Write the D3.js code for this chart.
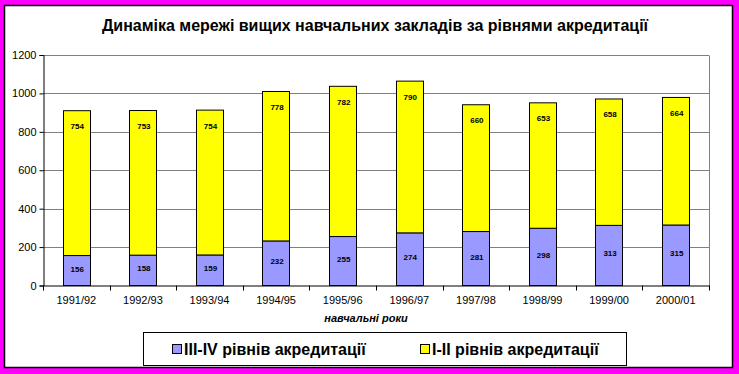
<!DOCTYPE html>
<html><head><meta charset="utf-8">
<script src="https://cdn.jsdelivr.net/npm/d3@7"></script>
<style>html,body{margin:0;padding:0;background:#FF00FF;}svg{display:block;}</style>
</head><body>
<svg id="c" width="739" height="374"></svg>
<script>
const years = ["1991/92","1992/93","1993/94","1994/95","1995/96","1996/97","1997/98","1998/99","1999/00","2000/01"];
const levelIII_IV = [156,158,159,232,255,274,281,298,313,315];
const levelI_II = [754,753,754,778,782,790,660,653,658,664];
const yTicks = [0,200,400,600,800,1000,1200];
const seriesNames = ["III-IV рівнів акредитації","I-II рівнів акредитації"];
const title = "Динаміка мережі вищих навчальних закладів за рівнями акредитації";
const xTitle = "навчальні роки";

const svg = d3.select("#c");
const font = "'Liberation Sans', Arial, sans-serif";
svg.append("rect").attr("x",0).attr("y",0).attr("width",739).attr("height",374).attr("fill","#FF00FF");
svg.append("rect").attr("x",4.5).attr("y",5.5).attr("width",728).attr("height",362)
  .attr("fill","#fff").attr("stroke","#000").attr("stroke-width",1.5);

const L=43, R=709, T=55, B=285.5;
const x = d3.scaleBand().domain(years).range([L,R]).paddingInner(0.59).paddingOuter(0.295);
const y = d3.scaleLinear().domain([0,1200]).range([B,T]);

// gridlines
svg.append("g").selectAll("line").data(yTicks.filter(d=>d>0)).join("line")
  .attr("x1",L).attr("x2",R).attr("y1",d=>Math.round(y(d))+0.5).attr("y2",d=>Math.round(y(d))+0.5)
  .attr("stroke","#808080").attr("stroke-width",1);
svg.append("line").attr("x1",R+0.5).attr("x2",R+0.5).attr("y1",Math.round(y(1200))+0.5).attr("y2",B)
  .attr("stroke","#808080");

const data = years.map((yr,i)=>({yr, a:levelIII_IV[i], b:levelI_II[i]}));
const stack = d3.stack().keys(["a","b"])(data);
const colors = ["#9999FF","#FFFF00"];
stack.forEach((s,k)=>{
  svg.append("g").selectAll("rect").data(s).join("rect")
    .attr("x",d=>Math.round(x(d.data.yr))+0.5)
    .attr("y",d=>y(d[1]))
    .attr("width",Math.round(x.bandwidth()))
    .attr("height",d=>y(d[0])-y(d[1]))
    .attr("fill",colors[k]).attr("stroke","#000").attr("stroke-width",1);
});
// data labels
const lbl = svg.append("g").attr("font-family",font).attr("font-size","8px").attr("font-weight","bold")
  .attr("text-anchor","middle").attr("fill","#000");
lbl.selectAll("text.a").data(stack[0]).join("text").attr("class","a")
  .attr("x",d=>x(d.data.yr)+x.bandwidth()/2+1).attr("y",d=>(y(d[0])+y(d[1]))/2+1)
  .text(d=>d.data.a);
lbl.selectAll("text.b").data(stack[1]).join("text").attr("class","b")
  .attr("x",d=>x(d.data.yr)+x.bandwidth()/2+1).attr("y",d=>y(d[1])+18.5)
  .text(d=>d.data.b);

// axes
const yAxis = d3.axisLeft(y).tickValues(yTicks).tickFormat(d3.format("d")).tickSize(4).tickPadding(3);
const gy = svg.append("g").attr("transform",`translate(${L+0.5},0)`).call(yAxis);
gy.select(".domain").attr("stroke","#000");
gy.selectAll("text").attr("font-family",font).attr("font-size","11px").attr("fill","#000");
gy.selectAll(".tick line").attr("stroke","#000");

const gx = svg.append("g").attr("transform",`translate(0,${B})`);
gx.append("line").attr("x1",L).attr("x2",R+1).attr("y1",0.5).attr("y2",0.5).attr("stroke","#000");
const bounds = d3.range(years.length+1).map(i=>L+i*(R-L)/years.length);
gx.selectAll("line.t").data(bounds).join("line").attr("class","t")
  .attr("x1",d=>Math.round(d)+0.5).attr("x2",d=>Math.round(d)+0.5).attr("y1",0).attr("y2",5).attr("stroke","#000");
gx.selectAll("text").data(years).join("text")
  .attr("x",d=>x(d)+x.bandwidth()/2).attr("y",18.5).attr("text-anchor","middle")
  .attr("font-family",font).attr("font-size","11px").attr("fill","#000").text(d=>d);

// titles
svg.append("text").attr("x",375).attr("y",31).attr("text-anchor","middle")
  .attr("font-family",font).attr("font-size","16px").attr("font-weight","bold").text(title);
svg.append("text").attr("x",366).attr("y",322).attr("text-anchor","middle")
  .attr("font-family",font).attr("font-size","11px").attr("font-weight","bold").attr("font-style","italic")
  .text(xTitle);

// legend
svg.append("rect").attr("x",143.5).attr("y",332.5).attr("width",483).attr("height",33)
  .attr("fill","#fff").attr("stroke","#000");
const legX = [172, 420];
seriesNames.forEach((n,i)=>{
  svg.append("rect").attr("x",legX[i]+0.5).attr("y",344.5).attr("width",9).attr("height",9)
    .attr("fill",colors[i]).attr("stroke","#000");
  svg.append("text").attr("x",legX[i]+12).attr("y",355).attr("font-family",font).attr("font-size","16px")
    .attr("font-weight","bold").attr("fill","#000").text(n);
});
</script>
</body></html>
